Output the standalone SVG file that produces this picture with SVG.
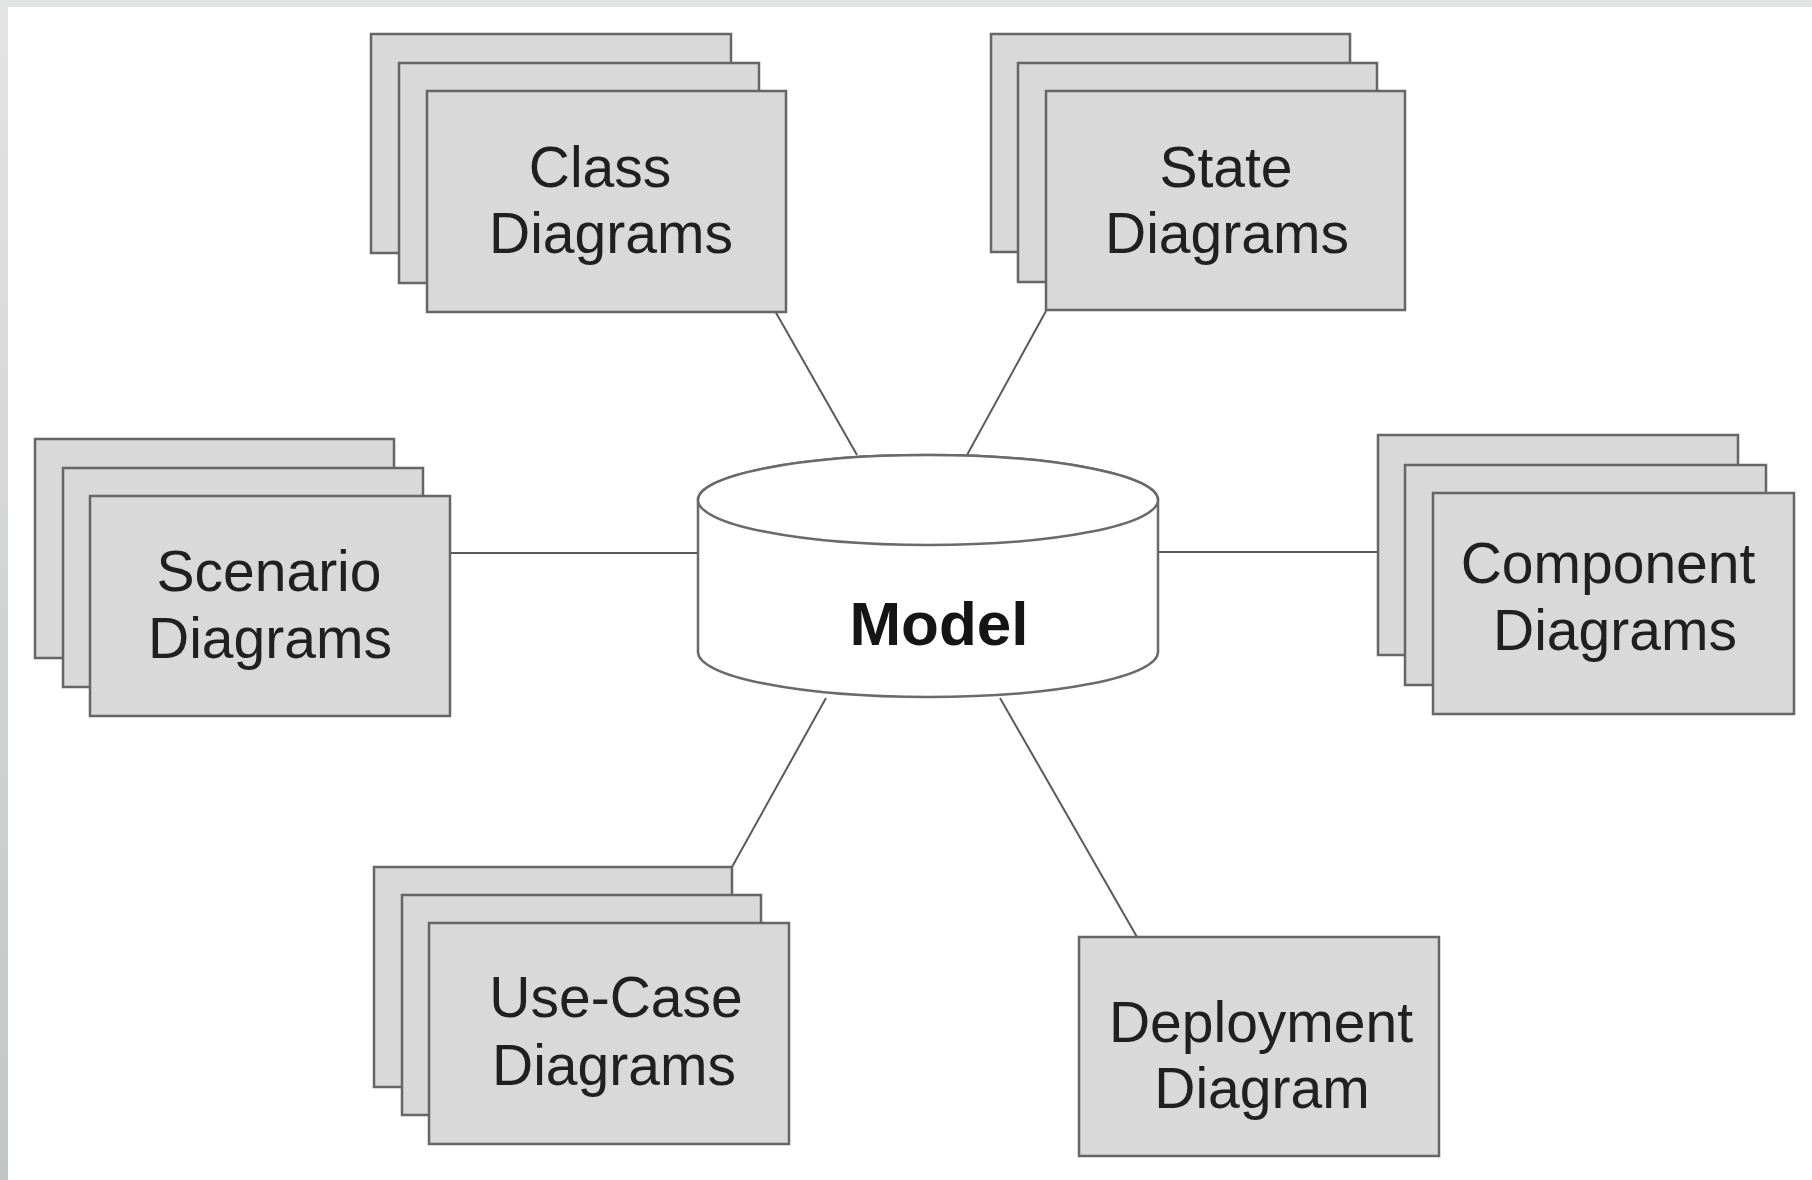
<svg xmlns="http://www.w3.org/2000/svg" width="1812" height="1180" viewBox="0 0 1812 1180">
  <defs>
    <linearGradient id="edgeLeft" x1="0" y1="0" x2="0" y2="1">
      <stop offset="0" stop-color="#e3e4e4"/>
      <stop offset="1" stop-color="#c2c6c6"/>
    </linearGradient>
  </defs>
  <style>
    .sheet { fill: #d9d9d9; stroke: #666666; stroke-width: 2.5; }
    .label { font-family: "Liberation Sans", Arial, Helvetica, sans-serif; font-size: 57px; fill: #202020; text-anchor: middle; }
    .title { font-family: "Liberation Sans", Arial, Helvetica, sans-serif; font-size: 62px; font-weight: bold; fill: #151515; text-anchor: middle; }
    .link { stroke: #5a5a5a; stroke-width: 2; fill: none; }
    .drum { fill: #ffffff; stroke: #6a6a6a; stroke-width: 2.5; }
  </style>

  <!-- page background with thin frame strips -->
  <rect x="0" y="0" width="1812" height="1180" fill="#ffffff"/>
  <rect x="0" y="0" width="1812" height="7" fill="#e3e4e4"/>
  <rect x="0" y="0" width="8" height="1180" fill="url(#edgeLeft)"/>

  <!-- connectors from the model to each diagram set -->
  <g id="connectors">
    <line class="link" x1="775" y1="311" x2="857" y2="455"/>
    <line class="link" x1="1046" y1="311" x2="967" y2="455"/>
    <line class="link" x1="450" y1="553" x2="698" y2="553"/>
    <line class="link" x1="1158" y1="552" x2="1378" y2="552"/>
    <line class="link" x1="826" y1="698" x2="732" y2="867"/>
    <line class="link" x1="1000" y1="698" x2="1137" y2="937"/>
  </g>

  <!-- central model repository -->
  <g id="model">
    <path class="drum" d="M698,500 L698,652 A230,45 0 0 0 1158,652 L1158,500 A230,45 0 0 0 698,500 Z"/>
    <ellipse class="drum" cx="928" cy="500" rx="230" ry="45"/>
    <text class="title" x="939" y="645">Model</text>
  </g>

  <g id="class-diagrams">
    <rect class="sheet" x="371" y="34" width="360" height="219"/>
    <rect class="sheet" x="399" y="63" width="360" height="220"/>
    <rect class="sheet" x="427" y="91" width="359" height="221"/>
    <text class="label" x="600" y="187">Class</text>
    <text class="label" x="611" y="253">Diagrams</text>
  </g>

  <g id="state-diagrams">
    <rect class="sheet" x="991" y="34" width="359" height="218"/>
    <rect class="sheet" x="1018" y="63" width="359" height="219"/>
    <rect class="sheet" x="1046" y="91" width="359" height="219"/>
    <text class="label" x="1226" y="187">State</text>
    <text class="label" x="1227" y="253">Diagrams</text>
  </g>

  <g id="scenario-diagrams">
    <rect class="sheet" x="35" y="439" width="359" height="219"/>
    <rect class="sheet" x="63" y="468" width="360" height="219"/>
    <rect class="sheet" x="90" y="496" width="360" height="220"/>
    <text class="label" x="269" y="591">Scenario</text>
    <text class="label" x="270" y="658">Diagrams</text>
  </g>

  <g id="component-diagrams">
    <rect class="sheet" x="1378" y="435" width="360" height="220"/>
    <rect class="sheet" x="1405" y="465" width="361" height="220"/>
    <rect class="sheet" x="1433" y="493" width="361" height="221"/>
    <text class="label" x="1608" y="583">Component</text>
    <text class="label" x="1615" y="650">Diagrams</text>
  </g>

  <g id="use-case-diagrams">
    <rect class="sheet" x="374" y="867" width="358" height="220"/>
    <rect class="sheet" x="402" y="895" width="359" height="220"/>
    <rect class="sheet" x="429" y="923" width="360" height="221"/>
    <text class="label" x="616" y="1017">Use-Case</text>
    <text class="label" x="614" y="1085">Diagrams</text>
  </g>

  <g id="deployment-diagram">
    <rect class="sheet" x="1079" y="937" width="360" height="219"/>
    <text class="label" x="1261" y="1042">Deployment</text>
    <text class="label" x="1262" y="1108">Diagram</text>
  </g>
</svg>
